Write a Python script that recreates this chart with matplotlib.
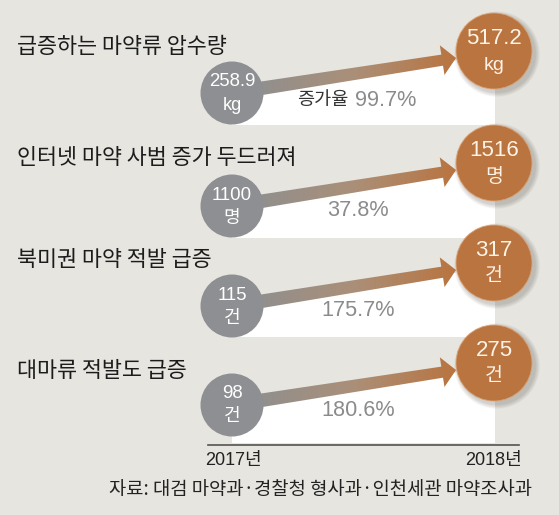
import numpy as np
import matplotlib
matplotlib.use("Agg")
import matplotlib.pyplot as plt
from matplotlib.patches import Circle, Polygon
from matplotlib.colors import LinearSegmentedColormap

FONT = ['Liberation Sans', 'Noto Sans CJK KR']
KFONT = ['Noto Sans CJK KR', 'DejaVu Sans']

titles = ['급증하는 마약류 압수량', '인터넷 마약 사범 증가 두드러져', '북미권 마약 적발 급증', '대마류 적발도 급증']
values_2017 = ['258.9', '1100', '115', '98']
values_2018 = ['517.2', '1516', '317', '275']
units = ['kg', '명', '건', '건']
growth = ['99.7%', '37.8%', '175.7%', '180.6%']
years = ['2017년', '2018년']
source = '자료: 대검 마약과·경찰청 형사과·인천세관 마약조사과'

# layout (pixels)
left_y = [93, 206, 306, 405]
right_y = [51, 163, 263, 363]
title_y = [47, 158, 260, 371]
band_bottom = [125, 238, 337, 443]
LX, RX, LR, RR = 232, 494, 31.5, 38

BG, GRAY, BROWN = '#e6e5e0', '#8d8f92', '#b9743f'
fig = plt.figure(figsize=(5.59, 5.15), dpi=100, facecolor=BG)
ax = fig.add_axes([0, 0, 1, 1])
ax.set_xlim(0, 559); ax.set_ylim(515, 0); ax.axis('off')
cmap = LinearSegmentedColormap.from_list('g', ['#8f8f8f', '#ab8f78', BROWN])
grad = np.linspace(0, 1, 256).reshape(1, -1)

for i in range(4):
    ly, ry, by = left_y[i], right_y[i], band_bottom[i]
    ax.add_patch(Polygon([(LX, ly), (495, ry + 4), (495, by), (LX, by)], fc='white', ec='none', zorder=1))

for i in range(4):
    ly, ry = left_y[i], right_y[i]
    x0, x1 = LX + 25, 456
    y0, y1 = ly - 4, ry + 7
    dx, dy = x1 - x0, y1 - y0
    L = np.hypot(dx, dy); u = np.array([dx, dy]) / L; n = np.array([-u[1], u[0]])
    s = np.array([x0, y0]); t = np.array([x1, y1]); b = t - u * 14
    tw0, tw1, hw = 6.8, 5.6, 15
    pts = [s + n * tw0, b + n * tw1, b + n * hw, t, b - n * hw, b - n * tw1, s - n * tw0]
    poly = Polygon(pts, fc='none', ec='none', transform=ax.transData)
    ax.add_patch(poly)
    im = ax.imshow(grad, extent=(x0 - 5, x1 + 1, ly + 15, ry - 25), cmap=cmap, aspect='auto', zorder=3)
    im.set_clip_path(poly)

    for k in range(8, 0, -1):
        ax.add_patch(Circle((RX + 3, ry + 3), RR + k * 0.6, fc='#555048', ec='none', alpha=0.035, zorder=3.5))
    ax.add_patch(Circle((LX, ly), LR, fc=GRAY, ec='none', zorder=4))
    ax.add_patch(Circle((RX, ry), RR, fc=BROWN, ec='#d9a377', lw=0.6, zorder=4))

    ax.text(LX, ly - 11, values_2017[i], color='white', fontsize=13.4, family=FONT, ha='center', va='center', zorder=5)
    ax.text(LX, ly + 12, units[i], color='white', fontsize=13, family=FONT, ha='center', va='center', zorder=5)
    ax.text(RX, ry - 12, values_2018[i], color='#fdf3e6', fontsize=16, family=FONT, ha='center', va='center', zorder=5)
    ax.text(RX, ry + 14, units[i], color='#fdf3e6', fontsize=14, family=FONT, ha='center', va='center', zorder=5)
    ax.text(17, title_y[i], titles[i], color='#1c1c1c', fontsize=15.7, family=KFONT, ha='left', va='center', zorder=5)

for i in range(1, 4):
    ax.text(358, left_y[i] + [0, 4, 5, 6][i], growth[i], color='#8a8b8d', fontsize=15.6, family=FONT, ha='center', va='center', zorder=5)
ax.text(348, 100, '증가율', color='#333333', fontsize=13.4, family=KFONT, ha='right', va='center', zorder=5)
ax.text(355, 100, growth[0], color='#8a8b8d', fontsize=15.6, family=FONT, ha='left', va='center', zorder=5)

ax.plot([208, 519], [444.5, 444.5], color='#55534f', lw=1.2, zorder=5)
ax.text(233, 460, years[0], color='#222222', fontsize=13, family=FONT, ha='center', va='center')
ax.text(494, 460, years[1], color='#222222', fontsize=13, family=FONT, ha='center', va='center')
ax.text(532, 490, source, color='#222222', fontsize=13.5, family=KFONT, ha='right', va='center')
ax.set_xlim(0, 559); ax.set_ylim(515, 0)
fig.savefig('out.png', dpi=100, facecolor=BG)
